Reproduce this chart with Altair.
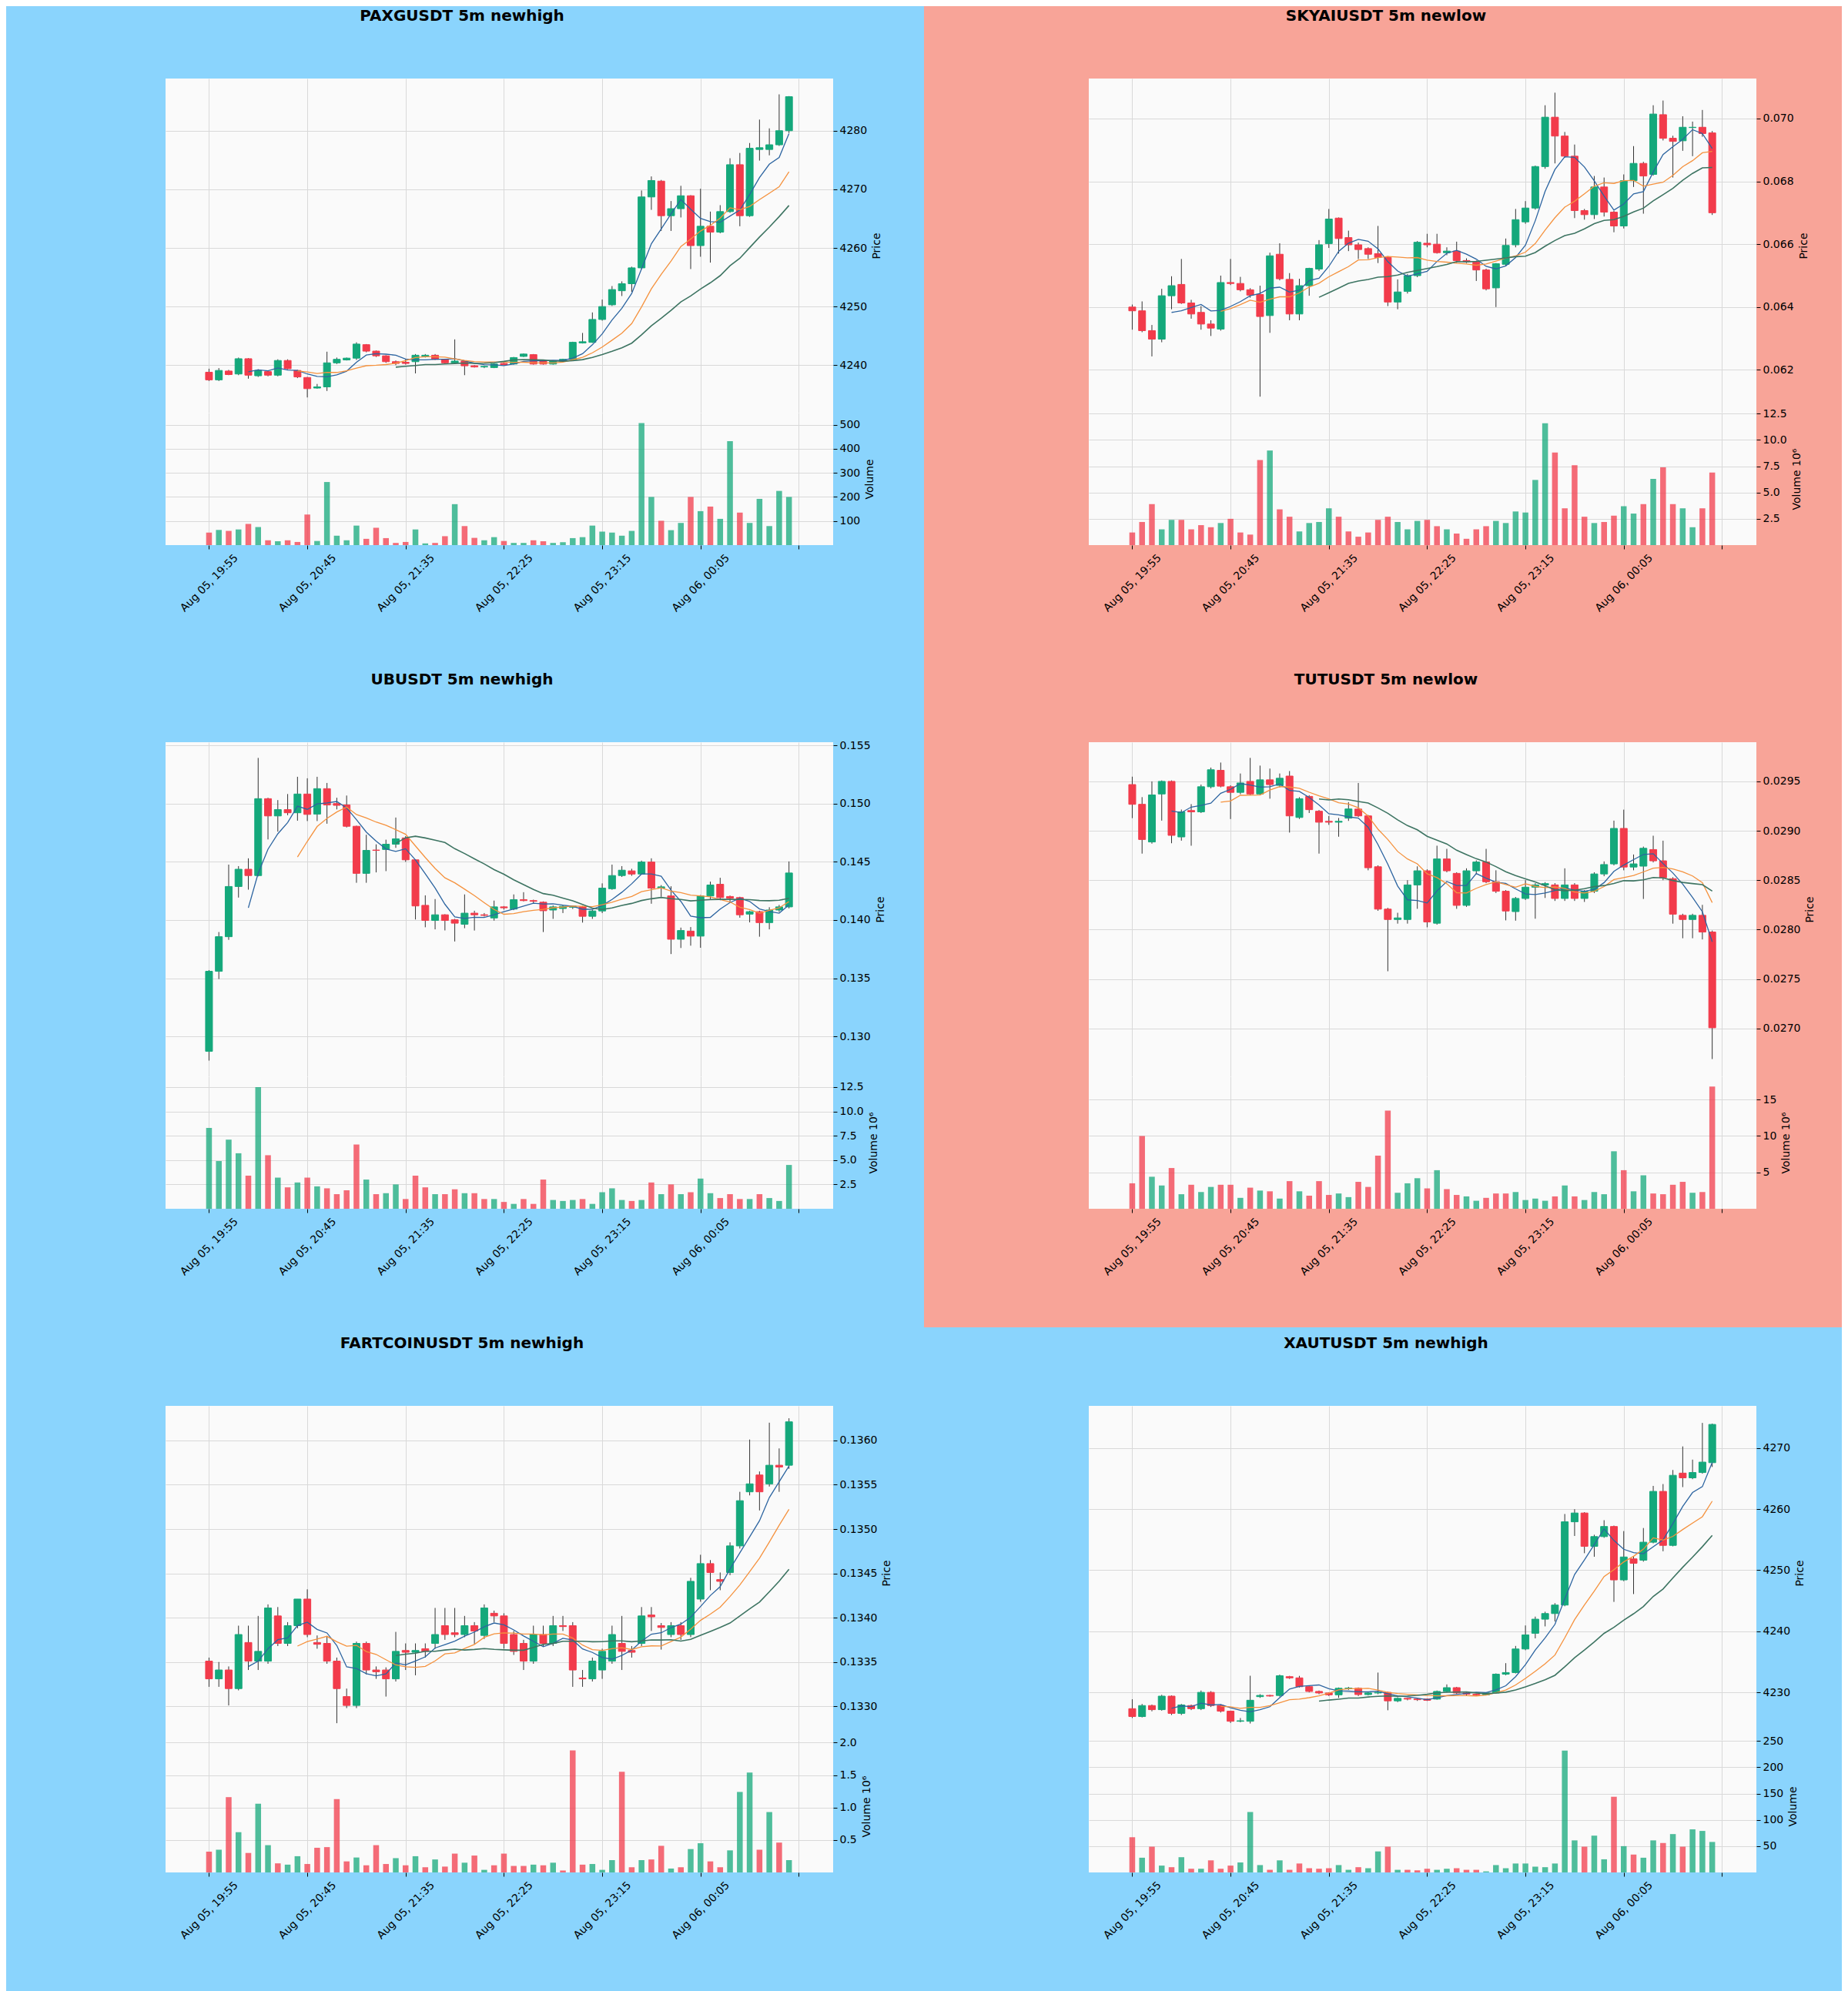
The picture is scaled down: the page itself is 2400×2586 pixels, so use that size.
import json
import altair as alt
import pandas as pd

# ---------------- data ----------------
TITLES = ["PAXGUSDT 5m newhigh", "SKYAIUSDT 5m newlow", "UBUSDT 5m newhigh",
          "TUTUSDT 5m newlow", "FARTCOINUSDT 5m newhigh", "XAUTUSDT 5m newhigh"]
KINDS = ["newhigh", "newlow", "newhigh", "newlow", "newhigh", "newhigh"]
X_TICKS = [0, 10, 20, 30, 40, 50, 60]
X_LABELS = ["Aug 05, 19:55", "Aug 05, 20:45", "Aug 05, 21:35", "Aug 05, 22:25",
            "Aug 05, 23:15", "Aug 06, 00:05", ""]

PRICE_TICKS = [
    [4240, 4250, 4260, 4270, 4280],
    [0.062, 0.064, 0.066, 0.068, 0.070],
    [0.130, 0.135, 0.140, 0.145, 0.150, 0.155],
    [0.0270, 0.0275, 0.0280, 0.0285, 0.0290, 0.0295],
    [0.1330, 0.1335, 0.1340, 0.1345, 0.1350, 0.1355, 0.1360],
    [4230, 4240, 4250, 4260, 4270],
]
PRICE_FMT = ["d", ".3f", ".3f", ".4f", ".4f", "d"]
VOL_TICKS = [
    [100, 200, 300, 400, 500],
    [2.5, 5.0, 7.5, 10.0, 12.5],
    [2.5, 5.0, 7.5, 10.0, 12.5],
    [5, 10, 15],
    [0.5, 1.0, 1.5, 2.0],
    [50, 100, 150, 200, 250],
]
VOL_FMT = ["d", ".1f", ".1f", "d", ".1f", "d"]
VOL_TITLES = ["Volume", "Volume  10\u2076", "Volume  10\u2076", "Volume  10\u2076",
              "Volume  10\u2076", "Volume"]
PRICE_DOMAINS = [[4231.9, 4288.9], [0.06064, 0.07127], [0.12658, 0.15527],
                 [0.026514, 0.029897], [0.13262, 0.13639], [4222.2, 4276.9]]
VOL_DOMAINS = [[0, 550], [0, 12.6], [0, 13.6], [0, 18.2], [0, 2.04], [0, 252]]

# PAXGUSDT
P1_O = [4238.8, 4237.5, 4239.0, 4238.5, 4241.1, 4238.2, 4238.9, 4238.3, 4240.8, 4239.1,
        4237.9, 4236.1, 4236.3, 4240.4, 4240.9, 4241.2, 4243.5, 4242.4, 4241.6, 4240.6,
        4240.5, 4240.6, 4241.5, 4241.7, 4241.0, 4240.4, 4240.7, 4239.9, 4239.7, 4239.6,
        4240.3, 4240.2, 4241.5, 4241.8, 4240.7, 4240.2, 4240.7, 4241.0, 4243.8, 4243.9,
        4247.8, 4250.3, 4252.7, 4253.9, 4256.6, 4268.7, 4271.4, 4265.5, 4266.7, 4268.9,
        4260.4, 4263.7, 4262.7, 4266.2, 4274.2, 4265.5, 4276.8, 4276.8, 4277.6, 4280.0]
P1_H = [4239.4, 4239.5, 4239.2, 4241.3, 4241.2, 4239.3, 4239.1, 4241.0, 4241.0, 4239.2,
        4238.0, 4236.8, 4242.3, 4241.3, 4241.3, 4243.9, 4243.6, 4242.5, 4241.7, 4240.8,
        4241.0, 4241.9, 4241.9, 4241.9, 4241.1, 4244.4, 4240.8, 4240.0, 4239.9, 4240.3,
        4240.4, 4241.4, 4242.0, 4241.9, 4240.8, 4240.8, 4241.1, 4244.0, 4245.5, 4249.0,
        4251.2, 4253.5, 4254.3, 4256.8, 4269.8, 4272.2, 4271.6, 4268.0, 4270.6, 4269.0,
        4270.1, 4266.2, 4267.3, 4275.3, 4276.2, 4277.9, 4281.9, 4280.4, 4286.2, 4285.9]
P1_L = [4237.3, 4237.3, 4238.3, 4238.3, 4237.7, 4238.0, 4238.1, 4238.1, 4239.3, 4237.8,
        4234.5, 4236.0, 4235.6, 4240.2, 4240.8, 4240.9, 4242.2, 4241.4, 4240.4, 4240.0,
        4240.1, 4238.6, 4241.3, 4240.9, 4240.3, 4240.2, 4238.3, 4239.6, 4239.5, 4239.5,
        4240.0, 4240.1, 4241.4, 4240.1, 4240.1, 4240.1, 4240.6, 4240.9, 4243.7, 4243.8,
        4247.6, 4250.1, 4251.8, 4252.5, 4256.4, 4266.5, 4262.9, 4262.9, 4265.2, 4256.4,
        4258.5, 4257.5, 4262.5, 4266.0, 4263.7, 4265.3, 4274.9, 4275.8, 4277.4, 4279.6]
P1_C = [4237.5, 4239.1, 4238.4, 4241.1, 4238.3, 4239.1, 4238.3, 4240.8, 4239.4, 4238.0,
        4236.0, 4236.3, 4240.4, 4241.0, 4241.2, 4243.6, 4242.4, 4241.6, 4240.6, 4240.3,
        4240.3, 4241.7, 4241.7, 4241.0, 4240.4, 4240.7, 4239.9, 4239.7, 4239.8, 4240.2,
        4240.1, 4241.3, 4241.9, 4240.2, 4240.2, 4240.7, 4241.0, 4243.9, 4244.0, 4247.8,
        4250.0, 4252.9, 4253.9, 4256.6, 4268.7, 4271.5, 4265.5, 4266.7, 4268.9, 4260.4,
        4263.7, 4262.7, 4266.2, 4274.2, 4265.5, 4277.0, 4277.1, 4277.6, 4280.0, 4285.8]
P1_V = [52, 63, 59, 65, 88, 75, 20, 16, 20, 13,
        127, 17, 262, 39, 20, 81, 26, 72, 29, 9,
        13, 65, 7, 9, 37, 170, 79, 30, 20, 33,
        17, 9, 9, 20, 16, 9, 12, 29, 33, 81,
        56, 52, 39, 59, 507, 200, 101, 62, 92, 200,
        141, 160, 109, 432, 135, 92, 192, 79, 225, 200]

# SKYAIUSDT
P2_O = [0.06400, 0.06388, 0.06325, 0.06298, 0.06436, 0.06472, 0.06413, 0.06383, 0.06346, 0.06330,
        0.06478, 0.06475, 0.06455, 0.06440, 0.06373, 0.06568, 0.06488, 0.06378, 0.06468, 0.06521,
        0.06602, 0.06683, 0.06621, 0.06598, 0.06586, 0.06570, 0.06558, 0.06416, 0.06450, 0.06500,
        0.06603, 0.06600, 0.06573, 0.06578, 0.06548, 0.06543, 0.06518, 0.06461, 0.06536, 0.06598,
        0.06671, 0.06715, 0.06847, 0.07004, 0.06944, 0.06880, 0.06707, 0.06694, 0.06782, 0.06702,
        0.06658, 0.06802, 0.06857, 0.06822, 0.07012, 0.06937, 0.06929, 0.06971, 0.06972, 0.06954]
P2_H = [0.06408, 0.06418, 0.06343, 0.06458, 0.06498, 0.06553, 0.06423, 0.06403, 0.06358, 0.06500,
        0.06553, 0.06496, 0.06460, 0.06468, 0.06573, 0.06603, 0.06508, 0.06490, 0.06525, 0.06613,
        0.06712, 0.06685, 0.06643, 0.06605, 0.06590, 0.06658, 0.06562, 0.06488, 0.06505, 0.06610,
        0.06633, 0.06633, 0.06590, 0.06608, 0.06555, 0.06548, 0.06522, 0.06540, 0.06618, 0.06712,
        0.06737, 0.06850, 0.07042, 0.07082, 0.06957, 0.06917, 0.06712, 0.06817, 0.06812, 0.06706,
        0.06822, 0.06912, 0.06862, 0.07042, 0.07057, 0.06945, 0.07007, 0.06990, 0.07027, 0.06960]
P2_L = [0.06328, 0.06320, 0.06243, 0.06288, 0.06393, 0.06410, 0.06363, 0.06328, 0.06308, 0.06325,
        0.06470, 0.06450, 0.06430, 0.06115, 0.06318, 0.06485, 0.06358, 0.06358, 0.06436, 0.06515,
        0.06588, 0.06570, 0.06578, 0.06553, 0.06553, 0.06540, 0.06403, 0.06393, 0.06443, 0.06495,
        0.06590, 0.06570, 0.06565, 0.06540, 0.06540, 0.06483, 0.06453, 0.06400, 0.06530, 0.06590,
        0.06665, 0.06710, 0.06840, 0.06857, 0.06875, 0.06683, 0.06678, 0.06680, 0.06688, 0.06638,
        0.06650, 0.06782, 0.06697, 0.06818, 0.06930, 0.06812, 0.06897, 0.06880, 0.06942, 0.06693]
P2_C = [0.06388, 0.06325, 0.06298, 0.06436, 0.06468, 0.06413, 0.06378, 0.06346, 0.06333, 0.06478,
        0.06475, 0.06455, 0.06438, 0.06370, 0.06563, 0.06490, 0.06378, 0.06468, 0.06523, 0.06598,
        0.06680, 0.06618, 0.06598, 0.06583, 0.06568, 0.06558, 0.06416, 0.06448, 0.06500, 0.06606,
        0.06598, 0.06573, 0.06578, 0.06548, 0.06545, 0.06518, 0.06458, 0.06538, 0.06596, 0.06678,
        0.06715, 0.06847, 0.07004, 0.06944, 0.06880, 0.06707, 0.06694, 0.06782, 0.06702, 0.06658,
        0.06802, 0.06857, 0.06817, 0.07014, 0.06937, 0.06927, 0.06972, 0.06972, 0.06952, 0.06700]
P2_V = [1.2, 2.2, 3.9, 1.5, 2.4, 2.4, 1.5, 1.9, 1.7, 2.1,
        2.5, 1.2, 1.0, 8.1, 9.0, 3.4, 2.7, 1.3, 2.1, 2.2,
        3.5, 2.7, 1.3, 0.8, 1.2, 2.4, 2.7, 2.2, 1.5, 2.3,
        2.4, 1.8, 1.5, 1.1, 0.6, 1.5, 1.8, 2.3, 2.1, 3.2,
        3.1, 6.2, 11.6, 8.8, 3.5, 7.6, 2.7, 2.1, 2.2, 2.8,
        3.7, 3.0, 3.9, 6.3, 7.4, 3.9, 3.5, 1.7, 3.5, 6.9]

# UBUSDT
P3_O = [0.12873, 0.13560, 0.13857, 0.14288, 0.14436, 0.14382, 0.15042, 0.14894, 0.14948, 0.14921,
        0.15082, 0.14910, 0.15128, 0.15000, 0.14988, 0.14805, 0.14401, 0.14601, 0.14606, 0.14651,
        0.14705, 0.14517, 0.14126, 0.13997, 0.14045, 0.14002, 0.13964, 0.14059, 0.14045, 0.14018,
        0.14113, 0.14094, 0.14175, 0.14167, 0.14153, 0.14086, 0.14099, 0.14110, 0.14113, 0.14032,
        0.14078, 0.14269, 0.14382, 0.14422, 0.14395, 0.14498, 0.14274, 0.14207, 0.13835, 0.13905,
        0.13862, 0.14207, 0.14307, 0.14202, 0.14193, 0.14051, 0.14072, 0.13978, 0.14086, 0.14113]
P3_H = [0.13570, 0.13897, 0.14476, 0.14463, 0.14530, 0.15392, 0.15050, 0.15030, 0.15082, 0.15230,
        0.15217, 0.15230, 0.15177, 0.15050, 0.15069, 0.14810, 0.14732, 0.14650, 0.14690, 0.14880,
        0.14720, 0.14520, 0.14212, 0.14180, 0.14050, 0.14010, 0.14220, 0.14080, 0.14060, 0.14167,
        0.14120, 0.14220, 0.14239, 0.14175, 0.14160, 0.14125, 0.14130, 0.14125, 0.14120, 0.14090,
        0.14315, 0.14476, 0.14463, 0.14440, 0.14510, 0.14530, 0.14300, 0.14290, 0.13935, 0.13940,
        0.14215, 0.14330, 0.14363, 0.14210, 0.14200, 0.14080, 0.14080, 0.14110, 0.14130, 0.14503]
P3_L = [0.12793, 0.13493, 0.13830, 0.14193, 0.14261, 0.14375, 0.14692, 0.14759, 0.14900, 0.14853,
        0.14850, 0.14850, 0.14827, 0.14950, 0.14795, 0.14320, 0.14320, 0.14409, 0.14420, 0.14620,
        0.14500, 0.14005, 0.13938, 0.13920, 0.13911, 0.13816, 0.13930, 0.13910, 0.14030, 0.13995,
        0.14090, 0.14085, 0.14160, 0.14140, 0.13897, 0.14010, 0.14060, 0.14095, 0.13978, 0.14010,
        0.14060, 0.14260, 0.14370, 0.14380, 0.14390, 0.14140, 0.14200, 0.13708, 0.13760, 0.13780,
        0.13762, 0.14180, 0.14170, 0.14150, 0.14020, 0.13980, 0.13857, 0.13920, 0.14070, 0.14100]
P3_C = [0.13560, 0.13857, 0.14288, 0.14436, 0.14382, 0.15042, 0.14894, 0.14948, 0.14921, 0.15082,
        0.14907, 0.15128, 0.14988, 0.14985, 0.14805, 0.14401, 0.14598, 0.14598, 0.14651, 0.14697,
        0.14517, 0.14121, 0.13997, 0.14045, 0.13997, 0.13973, 0.14059, 0.14045, 0.14040, 0.14113,
        0.14105, 0.14175, 0.14167, 0.14161, 0.14080, 0.14113, 0.14118, 0.14120, 0.14032, 0.14078,
        0.14274, 0.14382, 0.14428, 0.14395, 0.14498, 0.14274, 0.14285, 0.13835, 0.13910, 0.13862,
        0.14207, 0.14301, 0.14193, 0.14188, 0.14045, 0.14072, 0.13978, 0.14086, 0.14113, 0.14404]
P3_V = [8.3, 4.9, 7.1, 5.7, 3.4, 12.5, 5.5, 3.2, 2.2, 2.7,
        3.2, 2.3, 2.1, 1.5, 1.9, 6.6, 3.0, 1.5, 1.6, 2.5,
        1.0, 3.4, 2.2, 1.5, 1.5, 2.0, 1.6, 1.6, 1.0, 1.0,
        0.7, 0.5, 1.0, 0.5, 3.0, 0.9, 0.8, 0.9, 1.0, 0.5,
        1.7, 2.1, 0.9, 0.8, 0.9, 2.7, 1.5, 2.5, 1.5, 1.7,
        3.1, 1.6, 1.1, 1.5, 1.0, 1.0, 1.5, 1.1, 0.8, 4.5]

# TUTUSDT
P4_O = [0.029468, 0.029268, 0.028887, 0.029373, 0.029500, 0.028938, 0.029205, 0.029192, 0.029446, 0.029612,
        0.029446, 0.029389, 0.029500, 0.029373, 0.029516, 0.029460, 0.029554, 0.029135, 0.029348, 0.029198,
        0.029096, 0.029087, 0.029128, 0.029220, 0.029151, 0.028636, 0.028207, 0.028102, 0.028102, 0.028452,
        0.028595, 0.028064, 0.028715, 0.028569, 0.028245, 0.028595, 0.028684, 0.028484, 0.028388, 0.028182,
        0.028315, 0.028429, 0.028452, 0.028452, 0.028315, 0.028452, 0.028315, 0.028388, 0.028563, 0.028665,
        0.029024, 0.028633, 0.028642, 0.028810, 0.028696, 0.028515, 0.028144, 0.028102, 0.028144, 0.027975]
P4_H = [0.029548, 0.029341, 0.029500, 0.029510, 0.029510, 0.029215, 0.029270, 0.029468, 0.029640, 0.029691,
        0.029460, 0.029580, 0.029738, 0.029660, 0.029630, 0.029580, 0.029605, 0.029340, 0.029360, 0.029210,
        0.029150, 0.029130, 0.029290, 0.029484, 0.029160, 0.028650, 0.028220, 0.028170, 0.028500, 0.028640,
        0.028610, 0.028849, 0.028817, 0.028580, 0.028620, 0.028700, 0.028817, 0.028600, 0.028400, 0.028330,
        0.028500, 0.028470, 0.028480, 0.028470, 0.028620, 0.028470, 0.028400, 0.028580, 0.028690, 0.029103,
        0.029214, 0.028760, 0.028840, 0.028950, 0.028900, 0.028530, 0.028160, 0.028160, 0.028250, 0.027990]
P4_L = [0.029128, 0.028769, 0.028870, 0.029103, 0.028874, 0.028900, 0.028849, 0.029180, 0.029430, 0.029440,
        0.029119, 0.029370, 0.029360, 0.029360, 0.029325, 0.029440, 0.028982, 0.029120, 0.029180, 0.028769,
        0.029060, 0.028940, 0.029100, 0.029140, 0.028600, 0.028190, 0.027578, 0.028060, 0.028060, 0.028210,
        0.028023, 0.028050, 0.028580, 0.028210, 0.028230, 0.028560, 0.028470, 0.028370, 0.028093, 0.028090,
        0.028300, 0.028110, 0.028320, 0.028290, 0.028290, 0.028290, 0.028280, 0.028370, 0.028540, 0.028650,
        0.028600, 0.028600, 0.028310, 0.028680, 0.028500, 0.028060, 0.027912, 0.027912, 0.027900, 0.026689]
P4_C = [0.029268, 0.028912, 0.029363, 0.029500, 0.028954, 0.029192, 0.029192, 0.029446, 0.029618, 0.029452,
        0.029389, 0.029484, 0.029373, 0.029516, 0.029468, 0.029532, 0.029151, 0.029325, 0.029214, 0.029087,
        0.029087, 0.029096, 0.029221, 0.029151, 0.028626, 0.028207, 0.028102, 0.028118, 0.028452, 0.028595,
        0.028077, 0.028715, 0.028595, 0.028245, 0.028595, 0.028684, 0.028484, 0.028388, 0.028188, 0.028315,
        0.028429, 0.028452, 0.028465, 0.028315, 0.028452, 0.028315, 0.028388, 0.028563, 0.028658, 0.029024,
        0.028633, 0.028665, 0.028823, 0.028696, 0.028525, 0.028156, 0.028102, 0.028144, 0.027975, 0.027006]
P4_V = [3.5, 10.0, 4.4, 3.2, 5.6, 2.0, 3.3, 2.3, 3.0, 3.3,
        3.3, 1.5, 2.9, 2.5, 2.4, 1.4, 3.8, 2.4, 1.8, 3.8,
        1.9, 2.1, 1.6, 3.7, 3.0, 7.3, 13.5, 2.2, 3.5, 4.2,
        2.8, 5.3, 2.7, 1.9, 1.7, 1.1, 1.5, 2.1, 2.1, 2.3,
        1.2, 1.4, 1.1, 1.7, 3.2, 1.7, 1.2, 2.3, 2.0, 7.9,
        5.3, 2.4, 4.6, 2.1, 2.0, 3.3, 3.7, 2.2, 2.3, 16.8]

# FARTCOINUSDT
P5_O = [0.13351, 0.13331, 0.13341, 0.13320, 0.13372, 0.13351, 0.13351, 0.13402, 0.13371, 0.13391,
        0.13421, 0.13372, 0.13371, 0.13351, 0.13311, 0.13301, 0.13371, 0.13341, 0.13341, 0.13331,
        0.13363, 0.13361, 0.13365, 0.13371, 0.13391, 0.13383, 0.13381, 0.13391, 0.13380, 0.13405,
        0.13402, 0.13381, 0.13371, 0.13351, 0.13381, 0.13371, 0.13391, 0.13391, 0.13332, 0.13331,
        0.13341, 0.13351, 0.13371, 0.13363, 0.13371, 0.13403, 0.13391, 0.13381, 0.13391, 0.13381,
        0.13421, 0.13461, 0.13443, 0.13451, 0.13481, 0.13542, 0.13561, 0.13551, 0.13572, 0.13572]
P5_H = [0.13355, 0.13350, 0.13345, 0.13391, 0.13391, 0.13402, 0.13415, 0.13412, 0.13395, 0.13421,
        0.13432, 0.13380, 0.13379, 0.13355, 0.13320, 0.13373, 0.13373, 0.13345, 0.13344, 0.13384,
        0.13371, 0.13371, 0.13371, 0.13411, 0.13411, 0.13411, 0.13402, 0.13395, 0.13415, 0.13408,
        0.13405, 0.13385, 0.13375, 0.13391, 0.13391, 0.13402, 0.13402, 0.13395, 0.13341, 0.13355,
        0.13365, 0.13391, 0.13402, 0.13368, 0.13412, 0.13412, 0.13394, 0.13395, 0.13395, 0.13445,
        0.13471, 0.13465, 0.13451, 0.13485, 0.13542, 0.13601, 0.13565, 0.13620, 0.13591, 0.13625]
P5_L = [0.13322, 0.13322, 0.13301, 0.13318, 0.13341, 0.13341, 0.13348, 0.13368, 0.13368, 0.13388,
        0.13378, 0.13365, 0.13348, 0.13281, 0.13298, 0.13298, 0.13336, 0.13331, 0.13311, 0.13328,
        0.13341, 0.13335, 0.13355, 0.13365, 0.13375, 0.13378, 0.13378, 0.13370, 0.13376, 0.13395,
        0.13365, 0.13358, 0.13341, 0.13348, 0.13368, 0.13368, 0.13385, 0.13322, 0.13322, 0.13328,
        0.13331, 0.13348, 0.13341, 0.13355, 0.13368, 0.13385, 0.13364, 0.13378, 0.13375, 0.13378,
        0.13418, 0.13431, 0.13431, 0.13448, 0.13478, 0.13538, 0.13521, 0.13548, 0.13542, 0.13568]
P5_C = [0.13331, 0.13341, 0.13320, 0.13381, 0.13351, 0.13362, 0.13411, 0.13371, 0.13391, 0.13421,
        0.13381, 0.13370, 0.13351, 0.13320, 0.13301, 0.13371, 0.13341, 0.13339, 0.13331, 0.13362,
        0.13361, 0.13363, 0.13362, 0.13381, 0.13381, 0.13381, 0.13391, 0.13385, 0.13411, 0.13402,
        0.13371, 0.13362, 0.13351, 0.13381, 0.13371, 0.13391, 0.13390, 0.13341, 0.13331, 0.13351,
        0.13362, 0.13381, 0.13362, 0.13361, 0.13402, 0.13401, 0.13389, 0.13391, 0.13381, 0.13441,
        0.13461, 0.13451, 0.13441, 0.13481, 0.13532, 0.13551, 0.13542, 0.13572, 0.13570, 0.13621]
P5_V = [0.32, 0.35, 1.16, 0.62, 0.30, 1.06, 0.42, 0.14, 0.12, 0.25,
        0.13, 0.38, 0.39, 1.13, 0.17, 0.23, 0.11, 0.42, 0.13, 0.22,
        0.11, 0.25, 0.08, 0.20, 0.09, 0.29, 0.15, 0.26, 0.04, 0.11,
        0.29, 0.10, 0.10, 0.12, 0.11, 0.15, 0.03, 1.88, 0.12, 0.13,
        0.04, 0.19, 1.55, 0.08, 0.19, 0.20, 0.41, 0.06, 0.08, 0.36,
        0.45, 0.17, 0.08, 0.34, 1.24, 1.54, 0.35, 0.93, 0.46, 0.19]

# XAUTUSDT
P6_O = [4227.33, 4226.04, 4227.84, 4227.17, 4229.38, 4226.56, 4227.84, 4227.33, 4230.00, 4227.84,
        4226.92, 4225.27, 4225.27, 4229.30, 4229.50, 4229.49, 4232.57, 4232.37, 4230.93, 4230.15,
        4229.90, 4229.60, 4230.60, 4230.67, 4229.64, 4229.90, 4230.00, 4228.61, 4229.02, 4228.90,
        4228.90, 4228.90, 4230.15, 4230.77, 4229.90, 4229.70, 4229.60, 4229.90, 4232.98, 4233.24,
        4237.10, 4239.67, 4241.98, 4242.90, 4244.29, 4257.92, 4259.36, 4253.91, 4255.50, 4257.15,
        4248.41, 4251.85, 4251.64, 4254.58, 4262.90, 4254.06, 4265.89, 4265.12, 4265.99, 4267.60]
P6_H = [4228.87, 4228.10, 4228.00, 4229.60, 4229.50, 4228.10, 4228.00, 4230.30, 4230.20, 4228.00,
        4227.00, 4225.80, 4232.72, 4229.70, 4229.60, 4232.90, 4232.70, 4232.70, 4231.00, 4230.30,
        4230.00, 4230.80, 4230.90, 4230.80, 4230.00, 4233.24, 4230.10, 4229.20, 4229.10, 4229.00,
        4229.00, 4230.30, 4231.30, 4230.90, 4230.00, 4229.80, 4230.00, 4233.10, 4234.78, 4237.60,
        4240.95, 4242.40, 4243.20, 4244.60, 4259.20, 4259.98, 4259.50, 4255.80, 4258.18, 4257.30,
        4256.40, 4252.20, 4256.90, 4263.80, 4264.10, 4266.40, 4270.26, 4268.10, 4274.11, 4274.00]
P6_L = [4225.80, 4225.90, 4226.90, 4227.00, 4226.30, 4226.30, 4227.10, 4227.10, 4227.60, 4226.70,
        4225.00, 4225.10, 4224.90, 4229.10, 4229.30, 4229.30, 4232.20, 4230.80, 4230.00, 4229.70,
        4229.40, 4229.10, 4230.40, 4229.40, 4229.50, 4229.70, 4227.07, 4228.40, 4228.70, 4228.60,
        4228.60, 4228.80, 4230.00, 4229.70, 4229.50, 4229.40, 4229.50, 4229.80, 4232.80, 4233.10,
        4236.90, 4238.84, 4240.80, 4241.60, 4244.10, 4255.60, 4252.78, 4252.20, 4255.30, 4244.81,
        4248.20, 4246.09, 4251.40, 4254.40, 4253.10, 4253.90, 4263.60, 4264.90, 4265.80, 4266.90]
P6_C = [4226.04, 4227.84, 4227.17, 4229.38, 4226.56, 4227.94, 4227.33, 4230.00, 4227.84, 4226.92,
        4225.27, 4225.35, 4228.71, 4229.50, 4229.40, 4232.72, 4232.37, 4230.93, 4230.15, 4229.90,
        4229.60, 4230.67, 4230.70, 4229.64, 4229.90, 4230.00, 4228.61, 4229.02, 4228.90, 4228.80,
        4228.70, 4230.15, 4230.77, 4229.90, 4229.70, 4229.60, 4229.90, 4232.98, 4233.24, 4237.10,
        4239.41, 4241.98, 4242.90, 4244.29, 4257.92, 4259.36, 4253.91, 4255.50, 4257.15, 4248.41,
        4252.16, 4251.13, 4254.58, 4262.90, 4254.06, 4265.53, 4265.12, 4265.99, 4267.69, 4273.86]
P6_V = [67, 28, 49, 13, 10, 29, 7, 7, 23, 7,
        13, 19, 115, 14, 5, 23, 5, 17, 8, 7,
        8, 14, 5, 10, 8, 40, 49, 5, 5, 4,
        7, 5, 7, 8, 5, 5, 2, 14, 8, 17,
        17, 11, 10, 17, 232, 61, 49, 70, 25, 144,
        50, 34, 28, 61, 56, 73, 49, 82, 79, 58]

OPENS = [P1_O, P2_O, P3_O, P4_O, P5_O, P6_O]
HIGHS = [P1_H, P2_H, P3_H, P4_H, P5_H, P6_H]
LOWS = [P1_L, P2_L, P3_L, P4_L, P5_L, P6_L]
CLOSES = [P1_C, P2_C, P3_C, P4_C, P5_C, P6_C]
VOLUMES = [P1_V, P2_V, P3_V, P4_V, P5_V, P6_V]

# ---------------- style ----------------
BLUE = "#8ad4fd"
SALMON = "#f8a498"
UP = "#14a87b"
DOWN = "#f23b4b"
WICK = "#333333"
MA_SPECS = [(5, "#2c64a0", 1.3), (10, "#f5923e", 1.3), (20, "#3d7462", 1.6)]
FONT = "DejaVu Sans"

W, PH, VH = 867, 434, 172
ROW_GAP, COL_GAP = 256, 332
XDOM = [-4.03, 63.1]

ONE = pd.DataFrame({"k": [0]})
label_expr = json.dumps(X_LABELS) + "[round(datum.value / 10)]"


def frame(k):
    o, h, l, c, v = OPENS[k], HIGHS[k], LOWS[k], CLOSES[k], VOLUMES[k]
    return pd.DataFrame({
        "i": list(range(len(o))), "o": o, "h": h, "l": l, "c": c, "v": v,
        "dir": ["up" if cc >= oo else "down" for oo, cc in zip(o, c)],
    })


def rect(color, x, x2, y, y2):
    return alt.Chart(ONE).mark_rect(color=color).encode(
        x=alt.value(x), x2=alt.value(x2), y=alt.value(y), y2=alt.value(y2))


DIR_COLOR = alt.Scale(domain=["up", "down"], range=[UP, DOWN])


def price_chart(k, extras):
    df = frame(k)
    xscale = alt.Scale(domain=XDOM, nice=False, zero=False)
    xaxis = alt.Axis(values=X_TICKS, labels=False, ticks=False, domain=False,
                     grid=True, title=None)
    yscale = alt.Scale(domain=PRICE_DOMAINS[k], nice=False, zero=False)
    yaxis = alt.Axis(orient="right", values=PRICE_TICKS[k], format=PRICE_FMT[k],
                     title="Price", titleAngle=270, titleBaseline="top",
                     titlePadding=6, labelPadding=3, tickSize=5, grid=True)

    def Y(f):
        return alt.Y(f, scale=yscale, axis=yaxis)

    def X():
        return alt.X("i:Q", scale=xscale, axis=xaxis)

    base = alt.Chart(df)
    wick = base.mark_rule(color=WICK, strokeWidth=1).encode(x=X(), y=Y("l:Q"), y2="h:Q")
    body = base.mark_bar(size=9, strokeWidth=1).encode(
        x=X(), y=Y("o:Q"), y2="c:Q",
        color=alt.Color("dir:N", scale=DIR_COLOR, legend=None),
        stroke=alt.Stroke("dir:N", scale=DIR_COLOR, legend=None))
    lines = []
    for n, col, sw in MA_SPECS:
        lines.append(
            alt.Chart(df)
            .transform_window(ma="mean(c)", cnt="count()", frame=[-(n - 1), 0],
                              sort=[alt.SortField("i")])
            .transform_filter(f"datum.cnt >= {n}")
            .mark_line(color=col, strokeWidth=sw)
            .encode(x=X(), y=Y("ma:Q"))
        )
    title = alt.Chart(ONE).mark_text(
        text=TITLES[k], font=FONT, fontSize=20, fontWeight="bold", color="black",
        align="center", baseline="middle").encode(
        x=alt.value(600 - 215 if k % 2 == 0 else 1800 - 1414), y=alt.value(-81))
    return alt.layer(*extras, wick, body, *lines, title).properties(width=W, height=PH)


def volume_chart(k, extras):
    df = frame(k)
    xaxis = alt.Axis(values=X_TICKS, labelExpr=label_expr, labelAngle=315,
                     labelAlign="center", labelBaseline="middle", labelPadding=44,
                     labelOverlap=False, labelFlush=False, tickSize=5, ticks=True,
                     domain=False, grid=True, title=None)
    bars = alt.Chart(df).mark_bar(size=7.5, opacity=0.75).encode(
        x=alt.X("i:Q", scale=alt.Scale(domain=XDOM, nice=False, zero=False), axis=xaxis),
        y=alt.Y("v:Q", scale=alt.Scale(domain=VOL_DOMAINS[k], nice=False),
                axis=alt.Axis(orient="right", values=VOL_TICKS[k], format=VOL_FMT[k],
                              title=VOL_TITLES[k], titleAngle=270, titleBaseline="top",
                              titlePadding=6, labelPadding=3, tickSize=5, grid=True)),
        color=alt.Color("dir:N", scale=DIR_COLOR, legend=None))
    return alt.layer(*extras, bars).properties(width=W, height=VH)


def spacer():
    return alt.Chart(ONE).mark_point(opacity=0).encode(
        x=alt.value(0), y=alt.value(0)).properties(
        width=W, height=ROW_GAP, view=alt.ViewBackground(fill="transparent", strokeWidth=0))


def cell_bg(k):
    return SALMON if KINDS[k] == "newlow" else BLUE


charts = []
for r in range(3):
    left, right = 2 * r, 2 * r + 1
    top = -94 if r == 0 else -102
    extras_left = [rect(cell_bg(right), 985, 2177, top, 760)]
    if r == 0:
        extras_left.append(rect(BLUE, -207, -206, -94, -93))
    charts.append(price_chart(left, extras_left))
    charts.append(price_chart(right, []))
    vextras = [rect(BLUE, -207, -206, 317, 318)] if r == 2 else []
    charts.append(volume_chart(left, vextras))
    charts.append(volume_chart(right, []))
    if r < 2:
        charts.append(spacer())
        charts.append(spacer())

chart = alt.concat(*charts, columns=2, spacing={"row": 0, "column": COL_GAP},
                   bounds="flush").properties(
    background=BLUE, padding=0
).configure_view(fill="#fafafa", strokeWidth=0).configure_axis(
    labelFont=FONT, labelFontSize=14, labelColor="black",
    titleFont=FONT, titleFontSize=14, titleColor="black", titleFontWeight="normal",
    gridColor="#d9d9d9", gridWidth=1, tickColor="black", domain=False,
)

chart.save("out.html", embed_options={"renderer": "svg", "actions": False})
